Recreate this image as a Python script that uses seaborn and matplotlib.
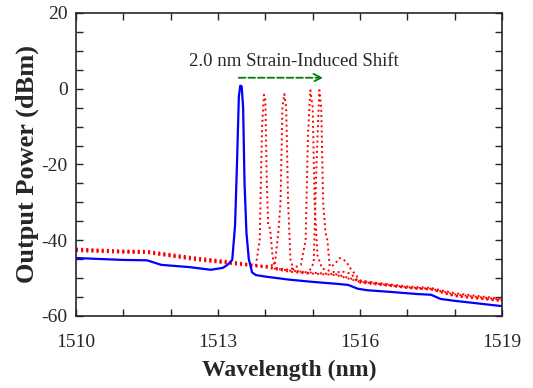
import numpy as np
import pandas as pd
import matplotlib
matplotlib.use("Agg")
import matplotlib.pyplot as plt
from matplotlib.ticker import MultipleLocator, FixedLocator
import seaborn as sns

# unstrained spectrum (blue)
blue_wl = [1510.0, 1511.0, 1511.5, 1511.8, 1512.4, 1512.85, 1513.1, 1513.2, 1513.3,
           1513.36, 1513.4, 1513.44, 1513.47, 1513.5, 1513.53, 1513.56, 1513.6, 1513.65,
           1513.72, 1513.8, 1514.0, 1514.5, 1515.0, 1515.5, 1515.75, 1515.95, 1516.15,
           1516.6, 1517.2, 1517.5, 1517.7, 1518.0, 1518.5, 1519.0]
blue_db = [-44.7, -45.2, -45.3, -46.5, -47.1, -47.8, -47.3, -46.5, -45.2,
           -36.0, -20.0, -2.0, 0.8, 0.6, -5.0, -25.0, -38.0, -45.0,
           -48.5, -49.2, -49.6, -50.4, -51.0, -51.5, -51.8, -52.8, -53.2,
           -53.6, -54.2, -54.4, -55.5, -56.0, -56.7, -57.4]

# strained spectra (red, dotted), four strain steps
red1_wl = [1510.0, 1511.0, 1511.5, 1512.5, 1513.3, 1513.8, 1513.88, 1513.93, 1513.97,
           1514.0, 1514.03, 1514.06, 1514.1, 1514.15, 1514.2, 1514.5, 1515.0, 1515.5,
           1516.0, 1517.0, 1517.5, 1518.0, 1519.0]
red1_db = [-42.2, -42.7, -42.8, -44.5, -45.6, -46.6, -40.0, -10.0, -1.6,
           -3.0, -25.0, -36.0, -37.0, -44.0, -47.5, -48.0, -48.6, -49.0,
           -50.8, -52.2, -52.6, -54.0, -55.5]
red2_wl = [1510.0, 1511.0, 1511.5, 1512.5, 1513.3, 1514.0, 1514.2, 1514.28, 1514.32,
           1514.36, 1514.4, 1514.44, 1514.48, 1514.53, 1514.6, 1515.0, 1515.5,
           1516.0, 1517.0, 1517.5, 1518.0, 1519.0]
red2_db = [-42.4, -42.9, -43.0, -44.8, -45.9, -46.8, -46.5, -37.0, -30.0,
           -5.0, -1.4, -5.0, -30.0, -45.0, -48.0, -48.8, -49.2,
           -51.0, -52.4, -52.8, -54.3, -55.7]
red3_wl = [1510.0, 1511.0, 1511.5, 1512.5, 1513.3, 1514.0, 1514.5, 1514.75, 1514.85,
           1514.9, 1514.95, 1515.0, 1515.04, 1515.1, 1515.2, 1515.5, 1515.6, 1515.8,
           1516.0, 1517.0, 1517.5, 1518.0, 1519.0]
red3_db = [-42.6, -43.1, -43.2, -45.0, -46.1, -46.9, -47.8, -46.5, -40.0,
           -12.0, -0.4, -5.0, -30.0, -44.0, -47.5, -48.6, -48.2, -48.8,
           -51.2, -52.6, -53.0, -54.6, -55.9]
red4_wl = [1510.0, 1511.0, 1511.5, 1512.5, 1513.3, 1514.0, 1514.5, 1514.9, 1515.02,
           1515.08, 1515.14, 1515.18, 1515.22, 1515.27, 1515.31, 1515.36, 1515.45,
           1515.57, 1515.7, 1515.8, 1516.0, 1517.0, 1517.5, 1518.0, 1519.0]
red4_db = [-42.9, -43.3, -43.4, -45.2, -46.3, -47.2, -48.3, -48.8, -46.0,
           -20.0, -0.4, -5.0, -30.0, -38.0, -40.0, -47.0, -46.5,
           -44.7, -45.5, -47.5, -50.6, -52.6, -53.0, -54.8, -56.1]

x_ticks = [1510, 1513, 1516, 1519]

red_sets = [(red1_wl, red1_db), (red2_wl, red2_db), (red3_wl, red3_db), (red4_wl, red4_db)]

sns.set_style("ticks")
plt.rcParams['font.family'] = ['Liberation Serif', 'DejaVu Serif']
plt.rcParams['axes.unicode_minus'] = False

fig = plt.figure(figsize=(5.33, 3.88), dpi=100)
ax = fig.add_axes([0.1426, 0.1856, 0.7994, 0.781])

for wl, db in red_sets:
    df = pd.DataFrame({"wl": wl, "db": db})
    sns.lineplot(data=df, x="wl", y="db", ax=ax, color="red", linestyle=":",
                 linewidth=1.4, sort=False, estimator=None)

df_blue = pd.DataFrame({"wl": blue_wl, "db": blue_db})
sns.lineplot(data=df_blue, x="wl", y="db", ax=ax, color="blue", linewidth=1.6,
             sort=False, estimator=None)

ax.annotate("", xy=(1515.28, 2.9), xytext=(1513.38, 2.9),
            arrowprops=dict(arrowstyle="->", color="green", linestyle="--",
                            linewidth=1.3, mutation_scale=14))
ax.text(1514.6, 7.3, "2.0 nm Strain-Induced Shift", ha="center", va="center",
        fontsize=13.5)

ax.set_xlim(1510, 1519)
ax.set_ylim(-60, 20)
ax.xaxis.set_major_locator(FixedLocator(x_ticks))
ax.xaxis.set_minor_locator(MultipleLocator(1))
ax.yaxis.set_major_locator(MultipleLocator(20))
ax.yaxis.set_minor_locator(MultipleLocator(5))
ax.tick_params(which="both", direction="in", top=True, right=True, length=5,
               width=1, labelsize=14, pad=6)
ax.tick_params(axis="x", which="major", pad=13)
ax.set_xlabel("Wavelength (nm)", fontsize=17, fontweight="bold", labelpad=6)
ax.set_ylabel("Output Power (dBm)", fontsize=19, fontweight="bold", labelpad=2)
for sp in ax.spines.values():
    sp.set_linewidth(1.2)

fig.savefig("out.png", dpi=100)
